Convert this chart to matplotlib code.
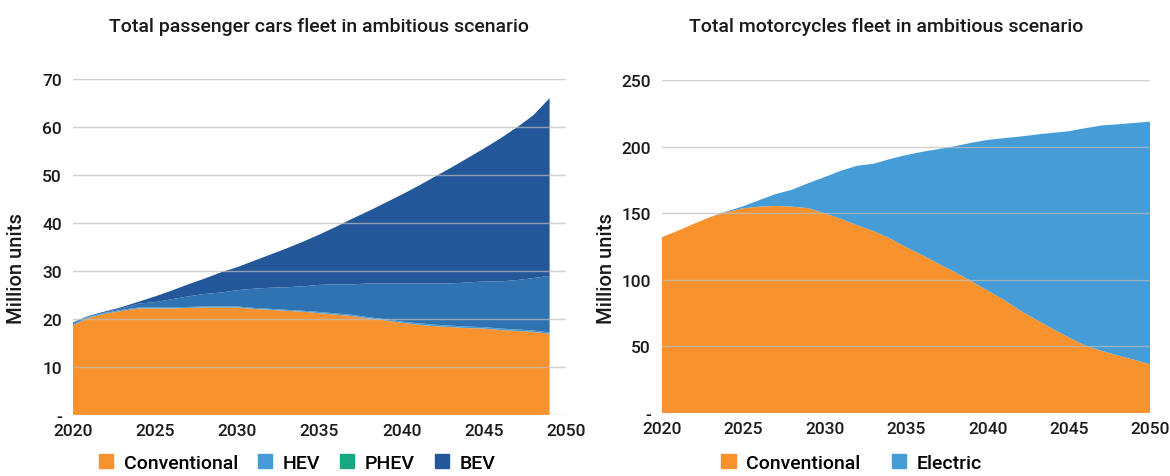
import numpy as np
import matplotlib.pyplot as plt
from matplotlib.patches import Patch
from matplotlib.ticker import FuncFormatter

plt.rcParams['font.family'] = ['Roboto', 'DejaVu Sans']
plt.rcParams['font.weight'] = 'medium'

# passenger cars, million units (2020-2049)
car_years = list(range(2020, 2050))
car_conv = [18.7, 20.3, 21.1, 21.7, 22.2, 22.2, 22.2, 22.3, 22.4, 22.4,
            22.4, 22.1, 21.9, 21.7, 21.5, 21.2, 20.9, 20.6, 20.1, 19.7,
            19.2, 18.8, 18.5, 18.3, 18.1, 18.0, 17.7, 17.5, 17.3, 16.9]
car_hev = [0.2, 0.2, 0.2, 0.2, 0.2, 0.2, 0.2, 0.2, 0.2, 0.2,
           0.2, 0.2, 0.2, 0.2, 0.2, 0.25, 0.25, 0.25, 0.25, 0.25,
           0.25, 0.3, 0.3, 0.3, 0.3, 0.3, 0.3, 0.3, 0.3, 0.3]
car_phev = [0.3, 0.1, 0.1, 0.4, 0.8, 1.1, 1.7, 2.2, 2.6, 2.9,
            3.4, 4.0, 4.4, 4.7, 5.1, 5.65, 6.05, 6.35, 7.05, 7.45,
            7.95, 8.3, 8.6, 8.8, 9.2, 9.5, 9.8, 10.3, 10.9, 11.8]
car_bev = [0.1, 0.1, 0.2, 0.2, 0.4, 1.2, 1.8, 2.5, 3.2, 4.2,
           4.8, 5.8, 6.9, 8.1, 9.3, 10.5, 12.0, 13.7, 15.1, 16.8,
           18.5, 20.3, 22.2, 24.1, 25.9, 27.7, 29.8, 31.8, 33.9, 37.0]

# motorcycles, million units (2020-2050)
moto_years = list(range(2020, 2051))
moto_conv = [132.1, 137.0, 142.3, 147.3, 151.0, 153.8, 155.0, 155.5, 155.0, 153.8,
             150.0, 145.8, 141.0, 136.6, 131.1, 124.5, 118.5, 112.0, 105.8, 99.0,
             92.0, 85.0, 77.0, 70.0, 63.2, 56.7, 50.7, 46.7, 43.2, 40.0, 36.5]
moto_elec = [0.0, 0.0, 0.0, 0.1, 0.5, 1.5, 5.0, 9.0, 12.7, 18.9,
             27.2, 36.2, 44.7, 50.6, 59.6, 69.2, 77.7, 86.2, 94.6, 103.9,
             113.1, 121.4, 130.6, 139.1, 147.2, 154.9, 163.2, 169.2, 173.6, 177.8, 182.3]

ORANGE = '#F7922E'
LIGHT_BLUE = '#459CD7'
MID_BLUE = '#2F73B3'
DARK_BLUE = '#245799'
GREEN = '#16A883'
TXT = '#1a1a1a'


def dash_zero(v, pos):
    return '-' if v == 0 else f'{v:g}'


def style_axes(ax, ymax, step):
    ax.set_ylim(0, ymax)
    ax.set_xlim(2020, 2050)
    ax.set_xticks(range(2020, 2051, 5))
    ax.set_yticks(np.arange(0, ymax + 1, step))
    ax.yaxis.set_major_formatter(FuncFormatter(dash_zero))
    for s in ax.spines.values():
        s.set_visible(False)
    ax.tick_params(length=0, labelsize=12.5, colors=TXT)
    ax.tick_params(axis='y', pad=8)
    ax.tick_params(axis='x', pad=6)
    for t in np.arange(0, ymax + 1, step):
        ax.axhline(t, color='#bdbdbd', lw=1, alpha=0.7, zorder=3)


fig = plt.figure(figsize=(11.7, 4.77), dpi=100)

ax1 = fig.add_axes([0.0624, 0.128, 0.4214, 0.7044])
ax1.stackplot(car_years, car_conv, car_hev, car_phev, car_bev,
              colors=[ORANGE, LIGHT_BLUE, MID_BLUE, DARK_BLUE], lw=0, zorder=2)
style_axes(ax1, 70, 10)

ax2 = fig.add_axes([0.5658, 0.132, 0.4175, 0.698])
ax2.stackplot(moto_years, moto_conv, moto_elec,
              colors=[ORANGE, LIGHT_BLUE], lw=0, zorder=2)
style_axes(ax2, 250, 50)

fig.text(0.0145, 0.436, 'Million units', rotation=90, ha='center', va='center',
         fontsize=14.5, color=TXT)
fig.text(0.518, 0.436, 'Million units', rotation=90, ha='center', va='center',
         fontsize=14.5, color=TXT)

fig.text(0.273, 0.943, 'Total passenger cars fleet in ambitious scenario',
         ha='center', va='center', fontsize=14, color=TXT)
fig.text(0.757, 0.943, 'Total motorcycles fleet in ambitious scenario',
         ha='center', va='center', fontsize=14, color=TXT)

h1 = [Patch(color=ORANGE), Patch(color=LIGHT_BLUE), Patch(color=GREEN), Patch(color=DARK_BLUE)]
fig.legend(h1, ['Conventional', 'HEV', 'PHEV', 'BEV'], loc='center',
           bbox_to_anchor=(0.254, 0.027), ncol=4, frameon=False, fontsize=14,
           handlelength=0.75, handleheight=0.75, handletextpad=0.55, columnspacing=1.0,
           borderaxespad=0, borderpad=0)
h2 = [Patch(color=ORANGE), Patch(color=LIGHT_BLUE)]
fig.legend(h2, ['Conventional', 'Electric'], loc='center',
           bbox_to_anchor=(0.7278, 0.027), ncol=2, frameon=False, fontsize=14,
           handlelength=0.75, handleheight=0.75, handletextpad=0.55, columnspacing=1.6,
           borderaxespad=0, borderpad=0)

fig.savefig('out.png', dpi=100)
